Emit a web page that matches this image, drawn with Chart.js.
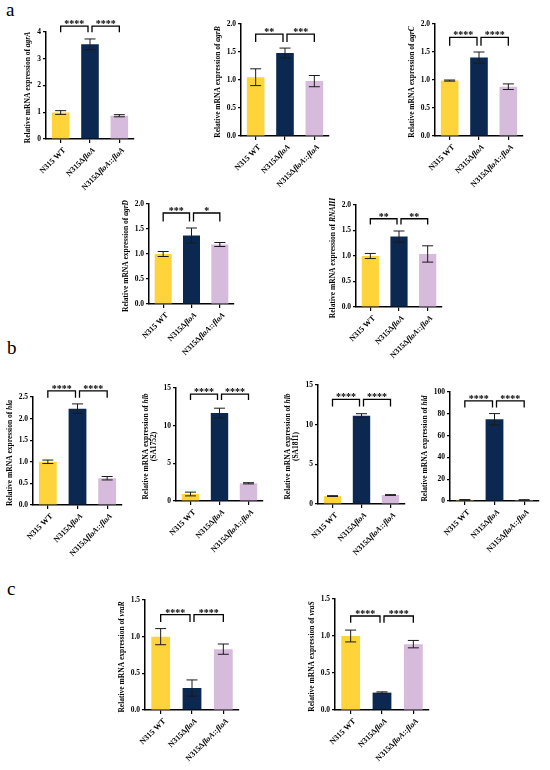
<!DOCTYPE html>
<html>
<head>
<meta charset="utf-8">
<script src="https://cdn.jsdelivr.net/npm/chart.js@4.4.1/dist/chart.umd.min.js"></script>
<style>
  html, body { margin: 0; padding: 0; background: #fff; }
  #page { position: relative; width: 550px; height: 770px; overflow: hidden; }
  #page canvas { position: absolute; }
  .letter { position: absolute; font-family: 'Liberation Serif', 'Times New Roman', serif; font-size: 19px; line-height: 1; color: #000; }
</style>
</head>
<body>
<div id="page">
  <div class="letter" style="left:6px;top:0px">a</div>
  <div class="letter" style="left:7px;top:338px">b</div>
  <div class="letter" style="left:7px;top:579px">c</div>
</div>
<script>
// groups on the x axis
const groupLabels = ['N315 WT', 'N315ΔfloA', 'N315ΔfloA::floA'];

// one entry per small chart
const genes = ['agrA', 'agrB', 'agrC', 'agrD', 'RNAIII', 'hla', 'hlb', 'hlb', 'hld', 'vraR', 'vraS'];
const geneNotes = ['', '', '', '', '', '', '(SA1752)', '(SA1811)', '', '', ''];

const wtMean   = [0.99, 1.05, 0.99, 1.00, 1.00, 1.00, 0.93, 1.00, 1.0, 1.00, 1.00];
const mutMean  = [3.54, 1.48, 1.40, 1.37, 1.38, 2.23, 11.67, 11.13, 75.0, 0.30, 0.235];
const compMean = [0.87, 0.98, 0.88, 1.19, 1.04, 0.62, 2.35, 1.13, 0.9, 0.83, 0.89];
const wtErr    = [0.07, 0.15, 0.01, 0.05, 0.05, 0.04, 0.25, 0.05, 0.3, 0.11, 0.08];
const mutErr   = [0.20, 0.09, 0.10, 0.15, 0.11, 0.11, 0.65, 0.25, 5.2, 0.11, 0.01];
const compErr  = [0.04, 0.10, 0.05, 0.04, 0.16, 0.04, 0.08, 0.05, 0.3, 0.07, 0.05];

const yMax      = [4, 2, 2, 2, 2, 2.5, 15, 15, 100, 1.5, 1.5];
const yStep     = [1, 0.5, 0.5, 0.5, 0.5, 0.5, 5, 5, 20, 0.5, 0.5];
const yDecimals = [0, 1, 1, 1, 1, 1, 0, 0, 0, 1, 1];

// significance brackets (value of bracket line and leg ends)
const starsLeft  = ['****', '**', '****', '***', '**', '****', '****', '****', '****', '****', '****'];
const starsRight = ['****', '***', '****', '*', '**', '****', '****', '****', '****', '****', '****'];
const bracketTop = [4.22, 1.82, 1.76, 1.82, 1.73, 2.64, 14.2, 13.2, 91.8, 1.30, 1.27];
const bracketLeg = [3.99, 1.68, 1.61, 1.65, 1.62, 2.48, 13.4, 12.3, 85.7, 1.20, 1.18];

// page frames: [axis x, top y, zero y, axis right]
const frames = [
  [46, 32, 139, 134], [241, 24, 136, 329], [435, 24, 136, 523],
  [149, 204, 304, 234], [356, 205, 307, 442],
  [33, 397, 505, 122], [176, 388, 501, 263], [318, 385, 504, 405], [450, 392, 501, 539],
  [145, 600, 710, 239], [335, 599, 710, 429]
];

const barColors = ['#FFD43A', '#0B2850', '#D7BBDC'];
const SERIF = "'Liberation Serif', 'Times New Roman', serif";
const PAD_L = 50, PAD_T = 30, PAD_R = 8, PAD_B = 72;

function pieces(text) {
  return text.split(/(floA|agrA|agrB|agrC|agrD|RNAIII|hla|hlb|hld|vraR|vraS)/)
    .filter(s => s.length)
    .map(s => ({ s: s, it: /^(floA|agrA|agrB|agrC|agrD|RNAIII|hla|hlb|hld|vraR|vraS)$/.test(s) }));
}

function drawMixed(ctx, parts, size, align) {
  const fonts = parts.map(p => (p.it ? 'italic ' : '') + 'bold ' + size + 'px ' + SERIF);
  let total = 0;
  const widths = parts.map((p, k) => { ctx.font = fonts[k]; const w = ctx.measureText(p.s).width; total += w; return w; });
  let x = align === 'right' ? -total : -total / 2;
  ctx.textAlign = 'left';
  parts.forEach((p, k) => { ctx.font = fonts[k]; ctx.fillText(p.s, x, 0); x += widths[k]; });
}

const overlay = {
  id: 'overlay',
  afterDraw(chart, args, opts) {
    const i = opts.idx;
    const ctx = chart.ctx;
    const ys = chart.scales.y;
    const area = chart.chartArea;
    const bars = chart.getDatasetMeta(0).data;
    const means = [wtMean[i], mutMean[i], compMean[i]];
    const errs = [wtErr[i], mutErr[i], compErr[i]];
    ctx.save();
    ctx.fillStyle = '#000';

    // error bars
    ctx.strokeStyle = '#1a1a1a';
    ctx.lineWidth = 1;
    bars.forEach((bar, k) => {
      const yHi = ys.getPixelForValue(means[k] + errs[k]);
      const yLo = ys.getPixelForValue(Math.max(0, means[k] - errs[k]));
      ctx.beginPath();
      ctx.moveTo(bar.x, yHi); ctx.lineTo(bar.x, yLo);
      ctx.moveTo(bar.x - 5.5, yHi); ctx.lineTo(bar.x + 5.5, yHi);
      ctx.moveTo(bar.x - 5.5, yLo); ctx.lineTo(bar.x + 5.5, yLo);
      ctx.stroke();
    });

    // brackets
    const yt = ys.getPixelForValue(bracketTop[i]);
    const yl = ys.getPixelForValue(bracketLeg[i]);
    const spans = [[bars[0].x, bars[1].x - 2, starsLeft[i]], [bars[1].x + 2, bars[2].x, starsRight[i]]];
    ctx.strokeStyle = '#000';
    ctx.lineWidth = 1.3;
    spans.forEach(([a, b, txt]) => {
      ctx.beginPath();
      ctx.moveTo(a, yl); ctx.lineTo(a, yt); ctx.lineTo(b, yt); ctx.lineTo(b, yl);
      ctx.stroke();
      ctx.font = 'bold 10px ' + SERIF;
      ctx.textAlign = 'center';
      ctx.textBaseline = 'alphabetic';
      ctx.fillText(txt, (a + b) / 2, yt + 1);
    });

    // y title
    ctx.font = 'bold 7.5px ' + SERIF;
    let maxW = 0;
    ys.ticks.forEach(t => { maxW = Math.max(maxW, ctx.measureText(t.label).width); });
    let tx = area.left - 3 - 2 - maxW - 9;
    const cy = (area.top + area.bottom) / 2 + 2;
    ctx.textBaseline = 'middle';
    const lines = [];
    lines.push(pieces('Relative mRNA expression of ' + genes[i]));
    if (geneNotes[i]) lines.push(pieces(geneNotes[i]));
    for (let n = lines.length - 1; n >= 0; n--) {
      ctx.save();
      ctx.translate(tx, cy);
      ctx.rotate(-Math.PI / 2);
      drawMixed(ctx, lines[n], 7.5, 'center');
      ctx.restore();
      tx -= 8.5;
    }

    // rotated x labels
    bars.forEach((bar, k) => {
      ctx.save();
      ctx.translate(bar.x + 4, area.bottom + 10);
      ctx.rotate(-Math.PI / 4);
      ctx.textBaseline = 'middle';
      drawMixed(ctx, pieces(groupLabels[k]), 8, 'right');
      ctx.restore();
    });
    ctx.restore();
  }
};

const page = document.getElementById('page');
frames.forEach((f, i) => {
  const [ax, top, zero, right] = f;
  const w = (right - ax) + PAD_L + PAD_R;
  const h = (zero - top) + PAD_T + PAD_B;
  const cv = document.createElement('canvas');
  cv.width = w; cv.height = h;
  cv.style.left = (ax - PAD_L) + 'px';
  cv.style.top = (top - PAD_T) + 'px';
  cv.style.width = w + 'px'; cv.style.height = h + 'px';
  page.appendChild(cv);

  new Chart(cv.getContext('2d'), {
    type: 'bar',
    data: {
      labels: groupLabels,
      datasets: [{
        data: [wtMean[i], mutMean[i], compMean[i]],
        backgroundColor: barColors,
        borderWidth: 0,
        barPercentage: 0.6,
        categoryPercentage: 1
      }]
    },
    options: {
      responsive: false,
      animation: false,
      layout: { padding: { top: PAD_T, right: PAD_R, left: 0, bottom: 0 } },
      plugins: {
        legend: { display: false },
        tooltip: { enabled: false },
        overlay: { idx: i }
      },
      scales: {
        x: {
          grid: { display: true, drawOnChartArea: false, drawTicks: true, tickLength: 4, offset: false, color: '#000', lineWidth: 1.2 },
          border: { display: true, color: '#000', width: 1.5 },
          ticks: { display: false },
          afterFit(s) { s.height = PAD_B; }
        },
        y: {
          min: 0,
          max: yMax[i],
          ticks: {
            stepSize: yStep[i],
            color: '#000',
            padding: 2,
            font: { family: SERIF, size: 7.5, weight: 'bold' },
            callback: v => Number(v).toFixed(yDecimals[i])
          },
          grid: { drawOnChartArea: false, drawTicks: true, tickLength: 3, color: '#000', lineWidth: 1.2 },
          border: { display: true, color: '#000', width: 1.5 },
          afterFit(s) { s.width = PAD_L; }
        }
      }
    },
    plugins: [overlay]
  });
});
</script>
</body>
</html>
